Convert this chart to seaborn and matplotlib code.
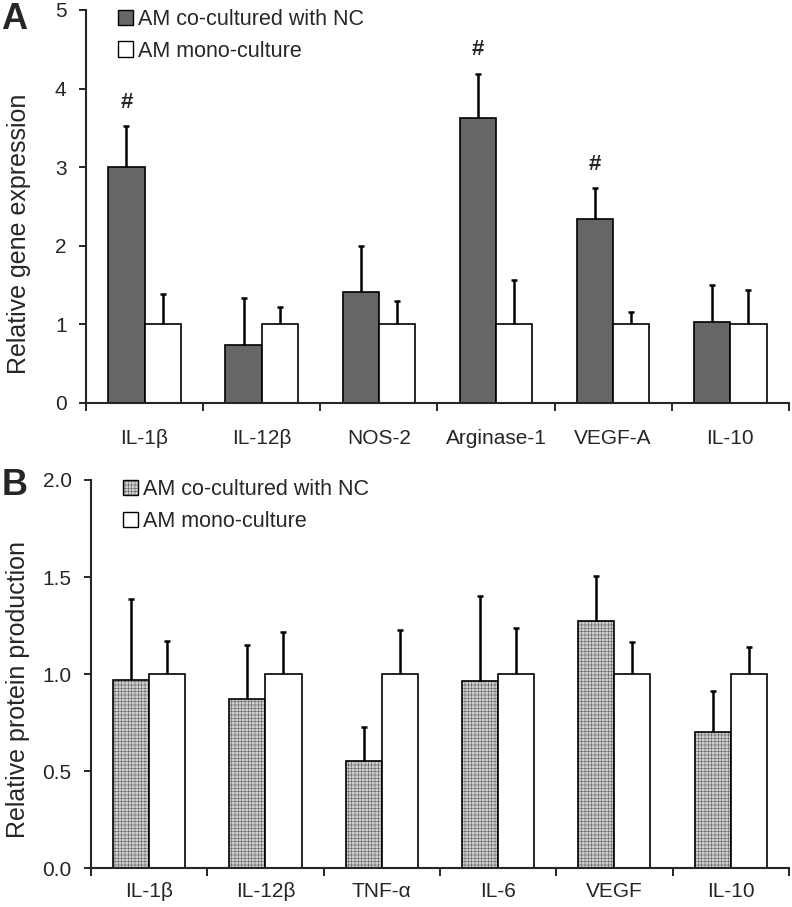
import numpy as np
import pandas as pd
import matplotlib
matplotlib.use("Agg")
import matplotlib.pyplot as plt
import matplotlib.colors as mcolors
import seaborn as sns
from matplotlib.patches import Patch

# ---- data ----
groups = ["AM co-cultured with NC", "AM mono-culture"]

genes_a = ["IL-1β", "IL-12β", "NOS-2", "Arginase-1", "VEGF-A", "IL-10"]
co_a = [3.00, 0.74, 1.41, 3.63, 2.34, 1.03]
co_a_err = [0.52, 0.60, 0.59, 0.56, 0.39, 0.47]
mono_a = [1.0, 1.0, 1.0, 1.0, 1.0, 1.0]
mono_a_err = [0.39, 0.22, 0.30, 0.56, 0.155, 0.435]
sig_a = ["#", "", "", "#", "#", ""]

prot_b = ["IL-1β", "IL-12β", "TNF-α", "IL-6", "VEGF", "IL-10"]
co_b = [0.97, 0.87, 0.55, 0.967, 1.276, 0.704]
co_b_err = [0.417, 0.28, 0.18, 0.433, 0.227, 0.21]
mono_b = [1.0, 1.0, 1.0, 1.0, 1.0, 1.0]
mono_b_err = [0.17, 0.217, 0.227, 0.24, 0.167, 0.141]

sns.set_style("ticks")
plt.rcParams["font.family"] = ["Liberation Sans", "DejaVu Sans"]
plt.rcParams["hatch.linewidth"] = 0.45

HATCH_COLOR = mcolors.to_rgba("#6a6a6a")

fig = plt.figure(figsize=(7.92, 9.07), dpi=100)
axA = fig.add_axes([0.1086, 0.5557, 0.8874, 0.4333])
axB = fig.add_axes([0.1149, 0.0427, 0.8811, 0.4281])


def set_hatch(p, hatch):
    p.set_hatch(hatch)
    if hasattr(p, "set_hatchcolor"):
        p.set_hatchcolor(HATCH_COLOR)
    else:
        p._hatch_color = HATCH_COLOR


def draw(ax, cats, co, co_err, mono, mono_err, ylim, yticks, ylabel, fmt, co_color, hatch,
         xpad, ylab_pos):
    df = pd.DataFrame({
        "cat": cats * 2,
        "val": co + mono,
        "grp": [groups[0]] * len(cats) + [groups[1]] * len(cats),
    })
    sns.barplot(data=df, x="cat", y="val", hue="grp", order=cats, hue_order=groups,
                palette=[co_color, "white"], width=0.62, errorbar=None,
                edgecolor="black", linewidth=1.2, saturation=1, ax=ax, legend=False)
    errs = co_err + mono_err
    vals = co + mono
    bars = ax.patches[:len(vals)]
    for i, p in enumerate(bars):
        if i < len(cats) and hatch:
            set_hatch(p, hatch)
        xc = p.get_x() + p.get_width() / 2
        _, caps, _ = ax.errorbar(xc, vals[i], yerr=[[0], [errs[i]]], fmt="none", ecolor="black",
                                 elinewidth=1.8, capsize=2.2, capthick=1.8, zorder=1)
        if len(caps) == 2:
            caps[0].remove()
    ax.set_xlim(-0.5, len(cats) - 0.5)
    ax.set_ylim(*ylim)
    ax.set_yticks(yticks)
    ax.set_yticklabels([fmt.format(t) for t in yticks], fontsize=15)
    ax.set_xticks(np.arange(len(cats) + 1) - 0.5, minor=False)
    ax.set_xticklabels([])
    ax.set_xticks(np.arange(len(cats)), minor=True)
    ax.set_xticklabels(cats, minor=True, fontsize=15)
    ax.tick_params(axis="x", which="minor", length=0, pad=xpad)
    ax.tick_params(axis="x", which="major", length=6, width=1.4, direction="out")
    ax.tick_params(axis="y", length=5, width=1.4, direction="out", pad=9)
    ax.set_xlabel("")
    ax.set_ylabel(ylabel, fontsize=18)
    ax.yaxis.set_label_coords(*ylab_pos)
    for s in ["top", "right"]:
        ax.spines[s].set_visible(False)
    for s in ["left", "bottom"]:
        ax.spines[s].set_linewidth(1.5)
    h1 = Patch(facecolor=co_color, edgecolor="black", linewidth=1.0)
    if hatch:
        set_hatch(h1, hatch)
    handles = [h1, Patch(facecolor="white", edgecolor="black", linewidth=1.0)]
    ax.legend(handles, groups, loc="upper left", bbox_to_anchor=(0.033, 1.025), frameon=False,
              fontsize=15.5, handlelength=0.7, handleheight=0.7, handletextpad=0.25,
              labelspacing=0.5, borderaxespad=0)
    return bars


barsA = draw(axA, genes_a, co_a, co_a_err, mono_a, mono_a_err, (0, 5), [0, 1, 2, 3, 4, 5],
             "Relative gene expression", "{:.0f}", "#666666", None, 19, (-0.078, 0.43))
for i, s in enumerate(sig_a):
    if s:
        p = barsA[i]
        axA.text(p.get_x() + p.get_width() / 2, co_a[i] + co_a_err[i] + 0.17, s,
                 ha="center", va="bottom", fontsize=16, fontweight="bold")

draw(axB, prot_b, co_b, co_b_err, mono_b, mono_b_err, (0, 2.0), [0.0, 0.5, 1.0, 1.5, 2.0],
     "Relative protein production", "{:.1f}", "#cfcfcf", "+++++", 10, (-0.087, 0.46))

fig.text(0.002, 0.979, "A", fontsize=26, fontweight="bold", va="center", ha="left")
fig.text(0.002, 0.465, "B", fontsize=26, fontweight="bold", va="center", ha="left")

fig.savefig("out.png", dpi=100)
